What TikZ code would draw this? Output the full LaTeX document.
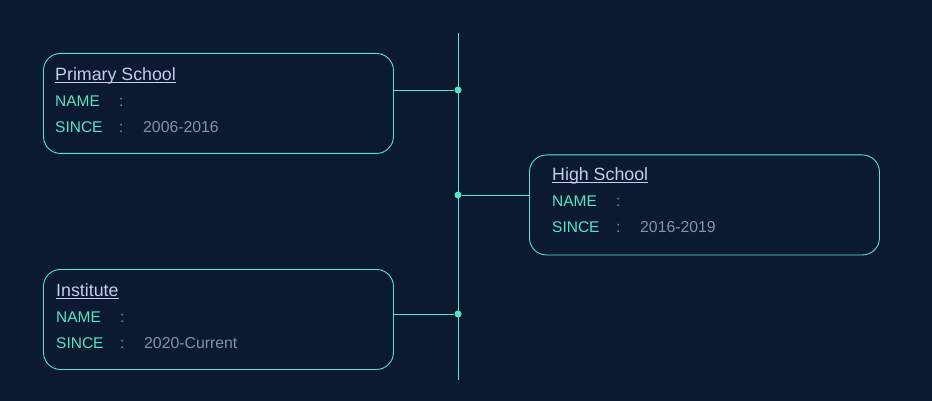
\documentclass[tikz,border=0pt]{standalone}
\usepackage{fontspec}
\setmainfont{Liberation Sans}
\definecolor{bg}{HTML}{0B1A30}
\definecolor{teal}{HTML}{55E6C6}
\definecolor{ttl}{HTML}{C8CCEA}
\definecolor{lbl}{HTML}{55E6C6}
\definecolor{val}{HTML}{8590AB}
\begin{document}
\begin{tikzpicture}[x=1pt,y=-1pt,
  card/.style={draw=teal, line width=0.9pt, rounded corners=17pt, inner sep=0pt, minimum width=350pt, minimum height=100pt, anchor=north west},
  title/.style={anchor=base west, inner sep=0pt, text=ttl, font=\fontsize{17.8}{20}\selectfont},
  lab/.style={anchor=base west, inner sep=0pt, text=lbl, font=\fontsize{15.5}{18}\selectfont},
  colon/.style={anchor=base west, inner sep=0pt, text=val, font=\fontsize{15.5}{18}\selectfont},
  value/.style={anchor=base west, inner sep=0pt, text=val, font=\fontsize{15.8}{18}\selectfont},
  link/.style={draw=teal, line width=0.9pt},
  dot/.style={circle, fill=teal, inner sep=0pt, minimum size=7pt}]
\fill[bg] (0,0) rectangle (932,401);
\useasboundingbox (0,0) rectangle (932,401);
% spine
\coordinate (top) at (458,33);
\coordinate (bot) at (458,380);
\draw[link] (top) -- (bot);
% cards
\node[card] (c1) at (43,53) {};
\node[card] (c2) at (529,154.5) {};
\node[card] (c3) at (43,269) {};
% dots
\node[dot] (d1) at (458,90) {};
\node[dot] (d2) at (458,195) {};
\node[dot] (d3) at (458,314) {};
\draw[link] (c1.east |- d1) -- (d1);
\draw[link] (d2) -- (c2.west |- d2);
\draw[link] (c3.east |- d3) -- (d3);
% card 1
\node[title] (t1) at (55,80.5) {Primary School};
\draw[ttl, line width=0.8pt] ([yshift=-2pt]t1.base west) -- ([yshift=-2pt]t1.base east);
\node[lab] (n1) at (55,106.5) {NAME};
\node[colon] (nc1) at (119,106.5) {:};
\node[lab] (s1) at (55,132.5) {SINCE};
\node[colon] (sc1) at (119,132.5) {:};
\node[value] (v1) at (143,132.5) {2006-2016};
% card 2
\node[title] (t2) at (552,180.5) {High School};
\draw[ttl, line width=0.8pt] ([yshift=-2pt]t2.base west) -- ([yshift=-2pt]t2.base east);
\node[lab] (n2) at (552,206.5) {NAME};
\node[colon] (nc2) at (616,206.5) {:};
\node[lab] (s2) at (552,232.5) {SINCE};
\node[colon] (sc2) at (616,232.5) {:};
\node[value] (v2) at (640,232.5) {2016-2019};
% card 3
\node[title] (t3) at (56,296.5) {Institute};
\draw[ttl, line width=0.8pt] ([yshift=-2pt]t3.base west) -- ([yshift=-2pt]t3.base east);
\node[lab] (n3) at (56,322) {NAME};
\node[colon] (nc3) at (120,322) {:};
\node[lab] (s3) at (56,348) {SINCE};
\node[colon] (sc3) at (120,348) {:};
\node[value] (v3) at (144,348) {2020-Current};
\end{tikzpicture}
\end{document}
